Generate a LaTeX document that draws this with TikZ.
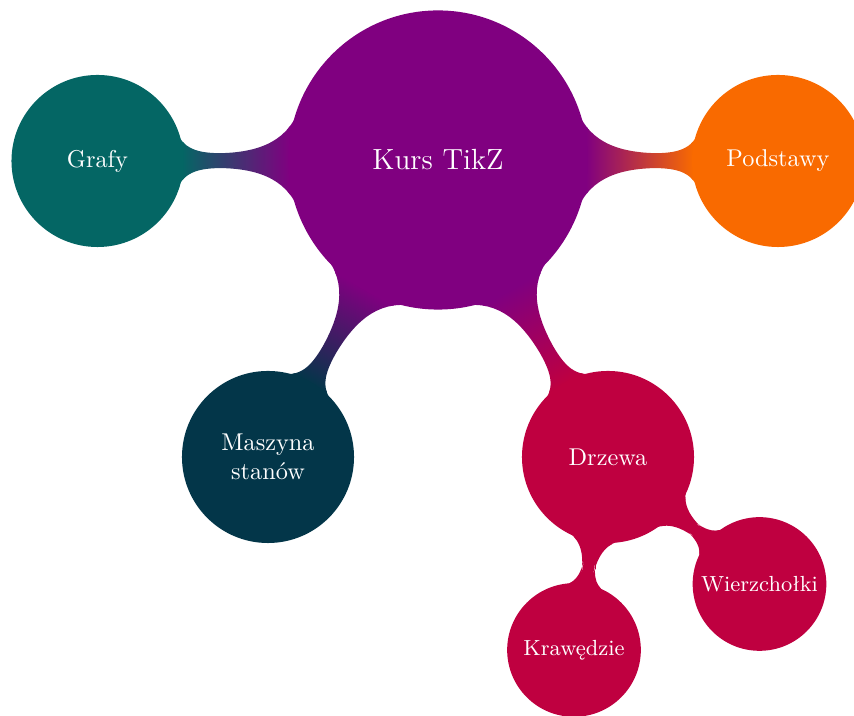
\documentclass[tikz,border=0pt]{standalone}
\usetikzlibrary{mindmap,backgrounds}
\definecolor{cRoot}{HTML}{800080}
\definecolor{cGraf}{HTML}{046664}
\definecolor{cPod}{HTML}{F96A00}
\definecolor{cMasz}{HTML}{033649}
\definecolor{cDrz}{HTML}{BF0040}
\begin{document}
\begin{tikzpicture}[x=0.4115pt,y=0.4115pt,mindmap,
  rootc/.style={concept,circle,minimum size=121.9pt,text width=3.5cm,align=center,font=\large,text=white},
  lvlone/.style={concept,circle,minimum size=69.6pt,text width=2cm,align=center,font=\normalsize,text=white},
  lvltwo/.style={concept,circle,inner sep=0pt,minimum size=53.8pt,text width=1.7cm,align=center,font=\small,text=white}]
\useasboundingbox (0,0) rectangle (854,716);
\node[rootc,concept color=cRoot] (root) at (438,556) {Kurs TikZ};
\node[lvlone,concept color=cGraf] (grafy) at (97.5,555) {Grafy};
\node[lvlone,concept color=cPod] (podst) at (778,555) {Podstawy};
\node[lvlone,concept color=cMasz] (masz) at (268,259) {Maszyna\\stanów};
\node[lvlone,concept color=cDrz] (drzewa) at (608,259) {Drzewa};
\node[lvltwo,concept color=cDrz] (kraw) at (574,66) {Krawędzie};
\node[lvltwo,concept color=cDrz] (wierz) at (759.5,132) {Wierzchołki};
\begin{pgfonlayer}{background}
\path (root) to[circle connection bar switch color=from (cRoot) to (cGraf)] (grafy);
\path (root) to[circle connection bar switch color=from (cRoot) to (cPod)] (podst);
\path (root) to[circle connection bar switch color=from (cRoot) to (cMasz)] (masz);
\path (root) to[circle connection bar switch color=from (cRoot) to (cDrz)] (drzewa);
\path (drzewa) to[circle connection bar switch color=from (cDrz) to (cDrz)] (kraw);
\path (drzewa) to[circle connection bar switch color=from (cDrz) to (cDrz)] (wierz);
\end{pgfonlayer}
\end{tikzpicture}
\end{document}
